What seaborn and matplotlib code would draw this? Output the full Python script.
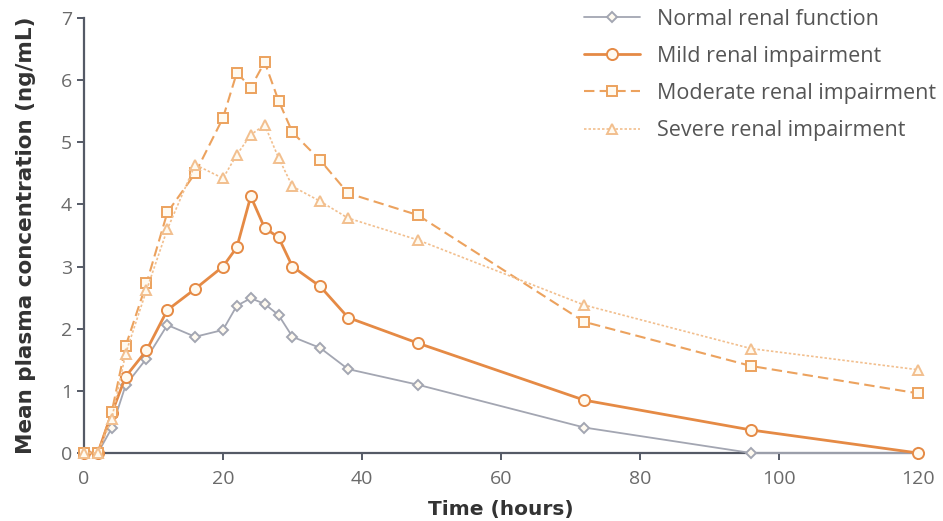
import numpy as np
import pandas as pd
import seaborn as sns
import matplotlib.pyplot as plt

# sampling times (hours)
hours = [0, 2, 4, 6, 9, 12, 16, 20, 22, 24, 26, 28, 30, 34, 38, 48, 72, 96, 120]

# mean plasma concentration (ng/mL)
normal = [0, 0, 0.40, 1.09, 1.52, 2.06, 1.87, 1.98, 2.37, 2.49, 2.40, 2.22, 1.87, 1.69, 1.35, 1.10, 0.41, 0.0, 0.0]
mild = [0, 0, 0.64, 1.23, 1.65, 2.30, 2.64, 3.00, 3.31, 4.13, 3.62, 3.47, 3.00, 2.68, 2.18, 1.77, 0.85, 0.37, 0.0]
moderate = [0, 0, 0.66, 1.72, 2.73, 3.87, 4.50, 5.39, 6.12, 5.88, 6.29, 5.67, 5.16, 4.71, 4.18, 3.83, 2.11, 1.40, 0.96]
severe = [0, 0, 0.55, 1.60, 2.62, 3.60, 4.64, 4.42, 4.80, 5.12, 5.28, 4.75, 4.29, 4.05, 3.78, 3.43, 2.38, 1.68, 1.34]

labels = ["Normal renal function", "Mild renal impairment",
          "Moderate renal impairment", "Severe renal impairment"]

df = pd.DataFrame({
    "time": hours * 4,
    "conc": normal + mild + moderate + severe,
    "group": np.repeat(labels, len(hours)),
})

sns.set_style("ticks")
plt.rcParams["font.family"] = ["Open Sans", "DejaVu Sans"]

fig, ax = plt.subplots(figsize=(9.43, 5.21), dpi=100)
fig.subplots_adjust(left=0.089, right=0.9735, bottom=0.1305, top=0.9655)

styles = {
    "Normal renal function": dict(color="#a3a6b2", linestyle="-", marker="D", markersize=5, lw=1.3),
    "Mild renal impairment": dict(color="#e58a45", linestyle="-", marker="o", markersize=8, lw=2.0),
    "Moderate renal impairment": dict(color="#eca25e", linestyle=(0, (5, 2.5)), marker="s", markersize=7, lw=1.5),
    "Severe renal impairment": dict(color="#f2bf8e", linestyle=(0, (1.5, 1.2)), marker="^", markersize=7, lw=1.2),
}

for lab in labels:
    st = styles[lab]
    sns.lineplot(data=df[df["group"] == lab], x="time", y="conc", ax=ax,
                 color=st["color"], linestyle=st["linestyle"], linewidth=st["lw"],
                 marker=st["marker"], markersize=st["markersize"],
                 markerfacecolor="#fffaf0", markeredgecolor=st["color"],
                 markeredgewidth=1.4, label=lab, clip_on=False, zorder=3)

ax.set_xlim(0, 120)
ax.set_ylim(0, 7)
ax.set_xticks([0, 20, 40, 60, 80, 100, 120])
ax.set_yticks(range(0, 8))
sns.despine(ax=ax)
for side in ["left", "bottom"]:
    ax.spines[side].set_color("#555a66")
    ax.spines[side].set_linewidth(1.6)
ax.tick_params(colors="#555a66", labelcolor="#6a6a6a", labelsize=14, length=5, width=1.4)
ax.tick_params(axis="x", pad=7)

ax.set_xlabel("Time (hours)", fontsize=14.5, fontweight="bold", color="#333333",
              labelpad=9, family="DejaVu Sans")
ax.set_ylabel("Mean plasma concentration (ng/mL)", fontsize=15.5, fontweight="bold",
              color="#333333", labelpad=18, family="DejaVu Sans")

leg = ax.legend(loc="upper right", bbox_to_anchor=(1.045, 1.066), frameon=False,
                fontsize=15.5, handlelength=2.6, labelspacing=0.75, handletextpad=0.8)
for t in leg.get_texts():
    t.set_color("#555555")

fig.savefig("out.png", dpi=100)
